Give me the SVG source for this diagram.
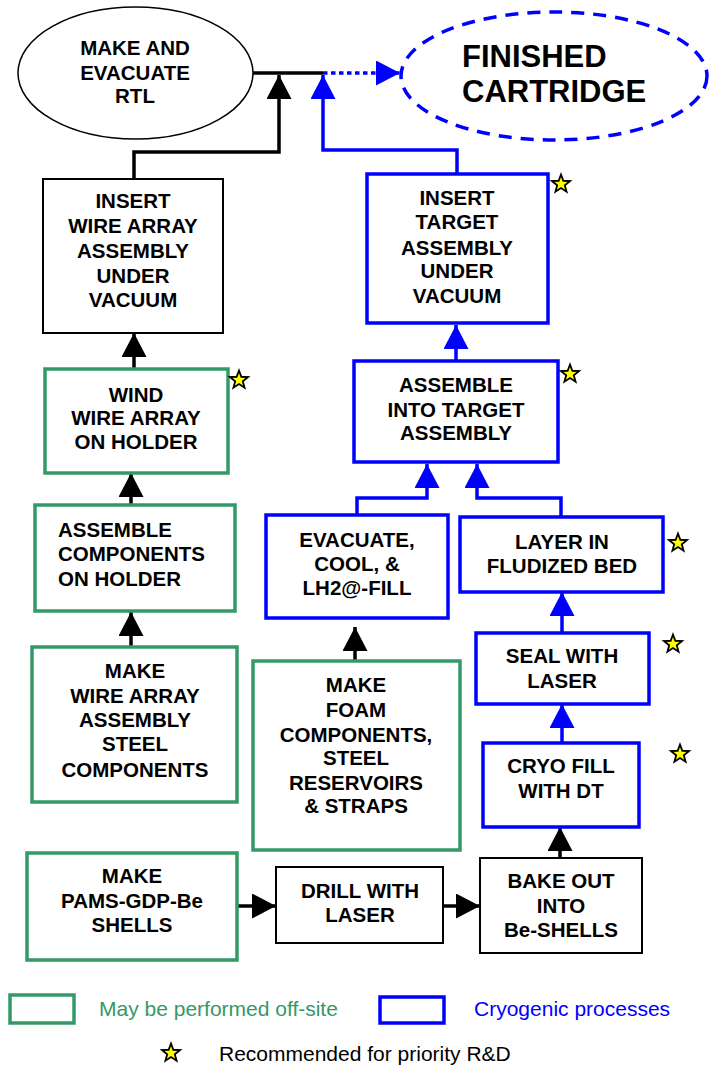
<svg xmlns="http://www.w3.org/2000/svg" width="709" height="1065" viewBox="0 0 709 1065">
  <style>
    .t { font-family: "Liberation Sans", Arial, Helvetica, sans-serif; font-weight: bold; font-size: 20.5px; fill: #000; text-anchor: middle; }
    .tl { text-anchor: start; }
    .big { font-size: 31px; text-anchor: start; }
    .leg { font-family: "Liberation Sans", Arial, Helvetica, sans-serif; font-size: 21px; }
    .bk { fill: #fff; stroke: #000; stroke-width: 2; }
    .gr { fill: #fff; stroke: #339966; stroke-width: 3.5; }
    .bl { fill: #fff; stroke: #0000ff; stroke-width: 3.5; }
    .cb { fill: none; stroke: #000; stroke-width: 3.5; }
    .cu { fill: none; stroke: #0000ff; stroke-width: 3.5; }
    .star { fill: #ffff00; stroke: #000; stroke-width: 1.8; stroke-linejoin: miter; }
  </style>
  <defs>
    <marker id="ahB" viewBox="0 0 24 25" markerWidth="24" markerHeight="25" refX="24" refY="12.5" orient="auto" markerUnits="userSpaceOnUse">
      <path d="M0,0 L24,12.5 L0,25 Z" fill="#000"/>
    </marker>
    <marker id="ahU" viewBox="0 0 24 25" markerWidth="24" markerHeight="25" refX="24" refY="12.5" orient="auto" markerUnits="userSpaceOnUse">
      <path d="M0,0 L24,12.5 L0,25 Z" fill="#0000ff"/>
    </marker>
    <path id="starShape" class="star" d="M0,-9.5 L2.351,-3.236 L9.035,-2.936 L3.804,1.236 L5.584,7.686 L0,4 L-5.584,7.686 L-3.804,1.236 L-9.035,-2.936 L-2.351,-3.236 Z"/>
  </defs>

  <rect width="709" height="1065" fill="#fff"/>

  <!-- connectors -->
  <g id="connectors">
    <path class="cb" d="M253,73 H323"/>
    <path class="cb" d="M134,179 V152 H279 V75" marker-end="url(#ahB)"/>
    <path class="cb" d="M134,369 V333" marker-end="url(#ahB)"/>
    <path class="cb" d="M131,505 V473" marker-end="url(#ahB)"/>
    <path class="cb" d="M131,647 V612" marker-end="url(#ahB)"/>
    <path class="cb" d="M355,661 V627" marker-end="url(#ahB)"/>
    <path class="cb" d="M237,906 H276" marker-end="url(#ahB)"/>
    <path class="cb" d="M443,906 H480" marker-end="url(#ahB)"/>
    <path class="cb" d="M560,858 V827" marker-end="url(#ahB)"/>

    <path class="cu" d="M457,174 V150 H323 V75" marker-end="url(#ahU)"/>
    <path class="cu" d="M323,73 H400" stroke-dasharray="4.5 3.5" marker-end="url(#ahU)"/>
    <path class="cu" d="M456,361 V325" marker-end="url(#ahU)"/>
    <path class="cu" d="M357,515 V498 H427 V464" marker-end="url(#ahU)"/>
    <path class="cu" d="M561,517 V498 H477 V464" marker-end="url(#ahU)"/>
    <path class="cu" d="M562,633 V592" marker-end="url(#ahU)"/>
    <path class="cu" d="M562,743 V704" marker-end="url(#ahU)"/>
  </g>

  <!-- nodes -->
  <g id="make-evacuate-rtl">
    <ellipse cx="135.5" cy="73" rx="117.5" ry="66" fill="#fff" stroke="#000" stroke-width="1.5"/>
    <text class="t"><tspan x="135" y="55">MAKE AND</tspan><tspan x="135" y="80">EVACUATE</tspan><tspan x="135" y="103">RTL</tspan></text>
  </g>

  <g id="finished-cartridge">
    <ellipse cx="554" cy="76" rx="153" ry="64" fill="none" stroke="#0000ff" stroke-width="3.5" stroke-dasharray="13 9"/>
    <text class="t big"><tspan x="462" y="67">FINISHED</tspan><tspan x="462" y="102">CARTRIDGE</tspan></text>
  </g>

  <g id="insert-wire-array">
    <rect class="bk" x="43" y="179" width="180" height="154"/>
    <text class="t"><tspan x="133" y="208">INSERT</tspan><tspan x="133" y="233">WIRE ARRAY</tspan><tspan x="133" y="258">ASSEMBLY</tspan><tspan x="133" y="283">UNDER</tspan><tspan x="133" y="307">VACUUM</tspan></text>
  </g>

  <g id="wind-wire-array">
    <rect class="gr" x="45" y="369" width="183" height="104"/>
    <text class="t"><tspan x="136" y="402">WIND</tspan><tspan x="136" y="425">WIRE ARRAY</tspan><tspan x="136" y="449">ON HOLDER</tspan></text>
    <use href="#starShape" x="239" y="380"/>
  </g>

  <g id="assemble-components">
    <rect class="gr" x="35" y="505" width="200" height="106"/>
    <text class="t tl"><tspan x="58" y="537">ASSEMBLE</tspan><tspan x="58" y="561">COMPONENTS</tspan><tspan x="58" y="586">ON HOLDER</tspan></text>
  </g>

  <g id="make-wire-array">
    <rect class="gr" x="32" y="647" width="205" height="155"/>
    <text class="t"><tspan x="135" y="678">MAKE</tspan><tspan x="135" y="703">WIRE ARRAY</tspan><tspan x="135" y="727">ASSEMBLY</tspan><tspan x="135" y="751">STEEL</tspan><tspan x="135" y="777">COMPONENTS</tspan></text>
  </g>

  <g id="make-shells">
    <rect class="gr" x="27" y="853" width="210" height="107"/>
    <text class="t"><tspan x="132" y="883">MAKE</tspan><tspan x="132" y="908">PAMS-GDP-Be</tspan><tspan x="132" y="932">SHELLS</tspan></text>
  </g>

  <g id="drill-laser">
    <rect class="bk" x="276" y="867" width="167" height="76"/>
    <text class="t"><tspan x="360" y="898">DRILL WITH</tspan><tspan x="360" y="922">LASER</tspan></text>
  </g>

  <g id="bake-out">
    <rect class="bk" x="480" y="858" width="162" height="95"/>
    <text class="t"><tspan x="561" y="888">BAKE OUT</tspan><tspan x="561" y="913">INTO</tspan><tspan x="561" y="937">Be-SHELLS</tspan></text>
  </g>

  <g id="make-foam">
    <rect class="gr" x="253" y="661" width="207" height="189"/>
    <text class="t"><tspan x="356" y="692">MAKE</tspan><tspan x="356" y="717">FOAM</tspan><tspan x="356" y="742">COMPONENTS,</tspan><tspan x="356" y="765">STEEL</tspan><tspan x="356" y="790">RESERVOIRS</tspan><tspan x="356" y="813">&amp; STRAPS</tspan></text>
  </g>

  <g id="evacuate-cool-fill">
    <rect class="bl" x="266" y="515" width="182" height="103"/>
    <text class="t"><tspan x="357" y="547">EVACUATE,</tspan><tspan x="357" y="571">COOL, &amp;</tspan><tspan x="357" y="595">LH2@-FILL</tspan></text>
  </g>

  <g id="layer-bed">
    <rect class="bl" x="460" y="517" width="203" height="75"/>
    <text class="t"><tspan x="562" y="549">LAYER IN</tspan><tspan x="562" y="573">FLUDIZED BED</tspan></text>
    <use href="#starShape" x="678" y="543"/>
  </g>

  <g id="seal-laser">
    <rect class="bl" x="476" y="633" width="173" height="71"/>
    <text class="t"><tspan x="562" y="663">SEAL WITH</tspan><tspan x="562" y="688">LASER</tspan></text>
    <use href="#starShape" x="673" y="644"/>
  </g>

  <g id="cryo-fill">
    <rect class="bl" x="483" y="743" width="156" height="84"/>
    <text class="t"><tspan x="561" y="773">CRYO FILL</tspan><tspan x="561" y="798">WITH DT</tspan></text>
    <use href="#starShape" x="680" y="754"/>
  </g>

  <g id="assemble-target">
    <rect class="bl" x="354" y="361" width="204" height="101"/>
    <text class="t"><tspan x="456" y="392">ASSEMBLE</tspan><tspan x="456" y="417">INTO TARGET</tspan><tspan x="456" y="440">ASSEMBLY</tspan></text>
    <use href="#starShape" x="570" y="374"/>
  </g>

  <g id="insert-target">
    <rect class="bl" x="367" y="174" width="181" height="149"/>
    <text class="t"><tspan x="457" y="205">INSERT</tspan><tspan x="457" y="229">TARGET</tspan><tspan x="457" y="255">ASSEMBLY</tspan><tspan x="457" y="278">UNDER</tspan><tspan x="457" y="303">VACUUM</tspan></text>
    <use href="#starShape" x="561" y="184"/>
  </g>

  <!-- legend -->
  <g id="legend">
    <rect class="gr" x="10" y="995" width="64" height="28"/>
    <text class="leg" x="99" y="1016" fill="#339966">May be performed off-site</text>
    <rect class="bl" x="380" y="997" width="64" height="26"/>
    <text class="leg" x="474" y="1016" fill="#0000ff">Cryogenic processes</text>
    <use href="#starShape" x="171" y="1053"/>
    <text class="leg" x="219" y="1061" fill="#000">Recommended for priority R&amp;D</text>
  </g>
</svg>
